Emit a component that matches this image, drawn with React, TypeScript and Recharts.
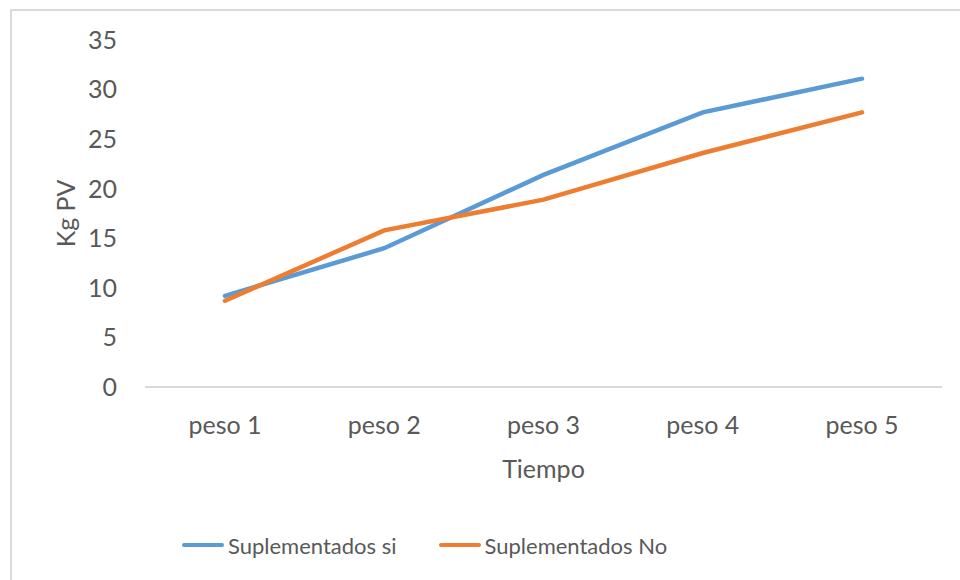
import { LineChart, Line, XAxis, YAxis, Legend } from 'recharts';

const categories = ['peso 1', 'peso 2', 'peso 3', 'peso 4', 'peso 5'];
const suplementadosSi = [9.2, 14.0, 21.4, 27.7, 31.1];
const suplementadosNo = [8.7, 15.8, 18.9, 23.6, 27.7];
const yTicks = [0, 5, 10, 15, 20, 25, 30, 35];

const seriesDefs = [
  { key: 'si', name: 'Suplementados si', color: '#5B9BD5' },
  { key: 'no', name: 'Suplementados No', color: '#ED7D31' },
];

const rows = categories.map((c, i) => ({ cat: c, si: suplementadosSi[i], no: suplementadosNo[i] }));

const FONT = 'Lato, "Open Sans", sans-serif';
const TEXT = '#595959';

function LegendBox() {
  return (
    <div style={{ display: 'flex', alignItems: 'center', height: 70, paddingLeft: 182, fontFamily: FONT, fontSize: 22, color: TEXT }}>
      {seriesDefs.map((s, i) => (
        <div key={s.key} style={{ display: 'flex', alignItems: 'center', marginRight: i === 0 ? 42 : 0 }}>
          <span style={{ display: 'inline-block', width: 42, height: 4, borderRadius: 2, background: s.color, marginRight: 4 }} />
          <span>{s.name}</span>
        </div>
      ))}
    </div>
  );
}

export default function App() {
  return (
    <div style={{ position: 'absolute', left: 0, top: 0, width: 960, height: 580, overflow: 'hidden', background: '#fff' }}>
      <div style={{ position: 'absolute', left: 10, top: 9, width: 980, height: 600, border: '2px solid #d9d9d9', boxSizing: 'border-box' }} />
      <LineChart width={960} height={580} data={rows} margin={{ top: 40, right: 18, left: 0, bottom: 0 }}>
        <XAxis
          dataKey="cat"
          height={123}
          padding={{ left: 80, right: 80 }}
          stroke="#d9d9d9"
          strokeWidth={2}
          tickLine={false}
          tickSize={0}
          tickMargin={29}
          tick={{ fill: TEXT, fontSize: 25, fontFamily: FONT }}
          label={{ value: 'Tiempo', position: 'insideBottom', offset: 32, fill: TEXT, fontSize: 25, fontFamily: FONT }}
        />
        <YAxis
          width={145}
          domain={[0, 35]}
          ticks={yTicks}
          axisLine={false}
          tickLine={false}
          tickSize={0}
          tickMargin={28}
          tick={{ fill: TEXT, fontSize: 25, fontFamily: FONT }}
          label={({ viewBox }: any) => (
            <text
              x={65}
              y={viewBox.y + viewBox.height / 2}
              transform={`rotate(-90, 65, ${viewBox.y + viewBox.height / 2})`}
              textAnchor="middle"
              dominantBaseline="central"
              fill={TEXT}
              fontSize={25}
              fontFamily={FONT}
            >
              Kg PV
            </text>
          )}
        />
        <Legend verticalAlign="bottom" height={70} content={() => <LegendBox />} />
        {seriesDefs.map((s) => (
          <Line
            key={s.key}
            type="linear"
            dataKey={s.key}
            name={s.name}
            stroke={s.color}
            strokeWidth={4.5}
            strokeLinecap="round"
            dot={false}
            activeDot={false}
            isAnimationActive={false}
          />
        ))}
      </LineChart>
    </div>
  );
}
